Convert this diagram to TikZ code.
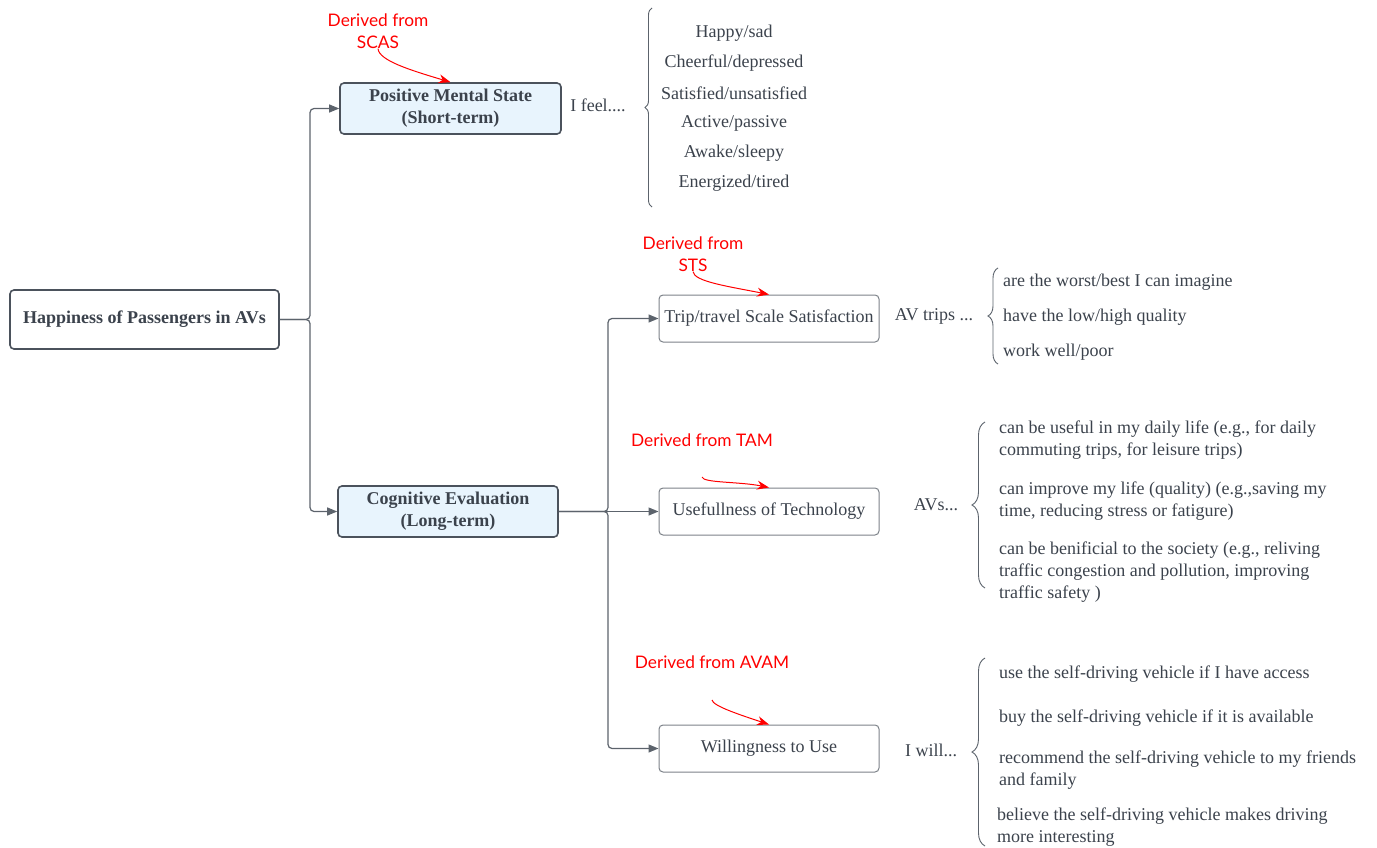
\documentclass[tikz,border=0pt]{standalone}
\usepackage{fontspec}
\setmainfont{Liberation Serif}
\newfontfamily\notefont{Lato}
\usetikzlibrary{arrows.meta, decorations.pathreplacing}

\definecolor{ink}{HTML}{3B424C}
\definecolor{boxline}{HTML}{4B525C}
\definecolor{boxfill}{HTML}{E8F4FD}
\definecolor{wire}{HTML}{5C636C}
\definecolor{note}{HTML}{FF0000}

\begin{document}
\begin{tikzpicture}[x=1pt, y=-1pt,
  font=\fontsize{18}{22}\selectfont, text=ink,
  topic/.style={draw=boxline, line width=1.6pt, rounded corners=4pt,
    fill=boxfill, font=\fontsize{18}{22}\selectfont\bfseries, align=center,
    minimum width=221pt, minimum height=51pt},
  measure/.style={draw=wire!80, line width=1pt, rounded corners=4pt,
    fill=white, align=center, minimum width=220pt, minimum height=47pt},
  txt/.style={inner sep=0pt, align=left},
  wire/.style={draw=wire, line width=1.2pt, rounded corners=4pt,
    -{Triangle[length=10pt, width=8pt]}},
  remark/.style={inner sep=0pt, text=note, align=center,
    font=\fontsize{17.3}{22}\selectfont\notefont},
  pointer/.style={draw=note, line width=1pt,
    -{Stealth[length=12pt, width=9pt]}},
  curly/.style={draw=wire, line width=0.9pt, decorate,
    decoration={brace, amplitude=#1}}
  ]
\useasboundingbox (0,0) rectangle (1377,848);

% boxes
\node[topic, fill=white, minimum width=269pt, minimum height=59pt]
  (root) at (144.5,319.5) {Happiness of Passengers in AVs};
\node[topic] (pms) at (450.5,108.5) {Positive Mental State\\(Short-term)};
\node[topic, minimum width=220pt] (ce) at (448,511.5) {Cognitive Evaluation\\(Long-term)};

\node[measure] (trip) at (769,318.5) {Trip/travel Scale Satisfaction};
\node[measure] (use) at (769,511.5) {Usefullness of Technology};
\node[measure] (will) at (769,748.5) {Willingness to Use};

% connectors
\draw[wire] (root.east) -- (310,319.5) |- (pms.west);
\draw[wire] (root.east) -- (310,319.5) |- (ce.west);
\draw[wire] (ce.east) -- (608,511.5) |- (trip.west);
\draw[wire] (ce.east) -- (use.west);
\draw[wire] (ce.east) -- (608,511.5) |- (will.west);

% short-term items
\node[txt] (feel) at (598,105) {I feel....};
\draw[curly=7pt] (652,207) -- (652,8);
\foreach \item [count=\i] in {Happy/sad, Cheerful/depressed,
    Satisfied/unsatisfied, Active/passive, Awake/sleepy, Energized/tired}
  \node[txt] (mood\i) at (734,3+30*\i) {\item};

% trip items
\node[txt] (trips) at (934,316) {AV trips ...};
\draw[curly=10pt] (998,364) -- (998,268);
\node[txt, anchor=west] (sts1) at (1003,282) {are the worst/best I can imagine};
\node[txt, anchor=west] (sts2) at (1003,317) {have the low/high quality};
\node[txt, anchor=west] (sts3) at (1003,352) {work well/poor};

% usefulness items
\node[txt] (avs) at (936,505) {AVs...};
\draw[curly=13pt] (985,588) -- (985,422);
\node[txt, anchor=west] (tam1) at (999,440)
  {can be useful in my daily life (e.g., for daily\\commuting trips, for leisure trips)};
\node[txt, anchor=west] (tam2) at (999,501)
  {can improve my life (quality) (e.g.,saving my\\time, reducing stress or fatigure)};
\node[txt, anchor=west] (tam3) at (999,572)
  {can be benificial to the society (e.g., reliving\\traffic congestion and pollution, improving\\traffic safety )};

% willingness items
\node[txt] (iwill) at (931,750) {I will...};
\draw[curly=13pt] (985,846) -- (985,658);
\node[txt, anchor=west] (avam1) at (999,674) {use the self-driving vehicle if I have access};
\node[txt, anchor=west] (avam2) at (999,718) {buy the self-driving vehicle if it is available};
\node[txt, anchor=west] (avam3) at (999,770)
  {recommend the self-driving vehicle to my friends\\and family};
\node[txt, anchor=west] (avam4) at (997,827)
  {believe the self-driving vehicle makes driving\\more interesting};

% sources
\node[remark] (scas) at (378,31) {Derived from\\SCAS};
\node[remark] (sts) at (693,254) {Derived from\\STS};
\node[remark] (tam) at (702,440) {Derived from TAM};
\node[remark] (avam) at (712,662) {Derived from AVAM};
\coordinate (tamfoot) at (702,477);
\coordinate (avamfoot) at (712,700);

\draw[pointer] (scas.south) .. controls +(1,12) and +(-40,-12) .. (pms.north);
\draw[pointer] (sts.south) .. controls +(1,10) and +(-40,-8) .. (trip.north);
\draw[pointer] (tamfoot) .. controls +(1,6) and +(-30,-6) .. (use.north);
\draw[pointer] (avamfoot) .. controls +(1,6) and +(-30,-10) .. (will.north);
\end{tikzpicture}
\end{document}
